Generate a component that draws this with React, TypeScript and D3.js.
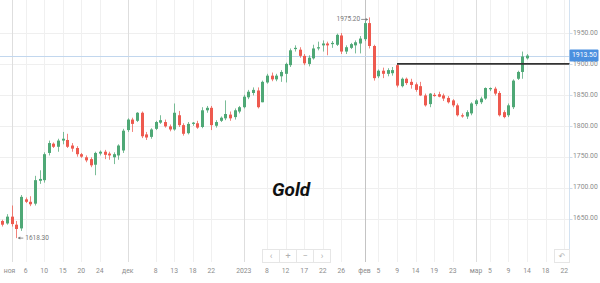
import React from "react";
import * as d3 from "d3";

const dates = [
  "2022-10-31",
  "2022-11-01","2022-11-02","2022-11-03","2022-11-04","2022-11-06","2022-11-07","2022-11-08","2022-11-09","2022-11-10","2022-11-11",
  "2022-11-13","2022-11-14","2022-11-15","2022-11-16","2022-11-17","2022-11-18","2022-11-20","2022-11-21","2022-11-22","2022-11-23",
  "2022-11-24","2022-11-25","2022-11-27","2022-11-28","2022-11-29","2022-11-30",
  "2022-12-01","2022-12-02","2022-12-04","2022-12-05","2022-12-06","2022-12-07","2022-12-08","2022-12-09","2022-12-11","2022-12-12",
  "2022-12-13","2022-12-14","2022-12-15","2022-12-16","2022-12-18","2022-12-19","2022-12-20","2022-12-21","2022-12-22","2022-12-23",
  "2022-12-26","2022-12-27","2022-12-28","2022-12-29","2022-12-30",
  "2023-01-02","2023-01-03","2023-01-04","2023-01-05","2023-01-06","2023-01-08","2023-01-09","2023-01-10","2023-01-11","2023-01-12",
  "2023-01-13","2023-01-15","2023-01-16","2023-01-17","2023-01-18","2023-01-19","2023-01-20","2023-01-22","2023-01-23","2023-01-24",
  "2023-01-25","2023-01-26","2023-01-27","2023-01-29","2023-01-30","2023-01-31",
  "2023-02-01","2023-02-02","2023-02-03","2023-02-05","2023-02-06","2023-02-07","2023-02-08","2023-02-09","2023-02-10","2023-02-12",
  "2023-02-13","2023-02-14","2023-02-15","2023-02-16","2023-02-17","2023-02-19","2023-02-20","2023-02-21","2023-02-22","2023-02-23",
  "2023-02-24","2023-02-26","2023-02-27","2023-02-28",
  "2023-03-01","2023-03-02","2023-03-03","2023-03-05","2023-03-06","2023-03-07","2023-03-08","2023-03-09","2023-03-10","2023-03-12",
  "2023-03-13","2023-03-14",
];
const futureDates = ["2023-03-15","2023-03-16","2023-03-17","2023-03-18","2023-03-19","2023-03-20","2023-03-21","2023-03-22"];

const opens = [
  1646,1642,1653,1640,1634,1681,1677,1674,1711,1712,
  1756,1771,1766,1776,1777,1768,1764,1754,1749,1746,
  1737,1755,1758,1755,1749,1752,1760,1793,1810,1808,
  1821,1786,1782,1795,1805,1806,1799,1794,1817,1801,
  1788,1803,1804,1798,1825,1829,1800,1808,1812,1818,
  1814,1823,1830,1846,1853,1857,1838,1870,1881,1875,
  1880,1884,1898,1924,1923,1913,1900,1909,1925,1930,
  1933,1932,1931,1946,1920,1926,1930,1933,1940,1966,
  1929,1880,1889,1884,1885,1898,1864,1876,1871,1867,
  1864,1849,1835,1850,1851,1849,1845,1841,1833,1817,
  1815,1820,1835,1838,1844,1859,1860,1853,1822,1817,
  1830,1876,1887,1909,
];
const highs = [
  1648,1657,1671,1646,1688,1684,1686,1719,1728,1757,
  1776,1773,1779,1790,1787,1772,1767,1756,1752,1749,
  1758,1760,1761,1758,1757,1770,1795,1812,1813,1822,
  1823,1790,1796,1808,1817,1810,1802,1836,1824,1804,
  1806,1806,1808,1830,1832,1832,1809,1815,1841,1823,
  1828,1832,1850,1858,1862,1862,1873,1884,1886,1884,
  1890,1902,1925,1930,1927,1916,1914,1931,1936,1938,
  1936,1937,1949,1950,1930,1934,1938,1945,1970,1975.2,
  1931,1891,1894,1893,1895,1901,1878,1878,1876,1870,
  1871,1852,1853,1853,1855,1852,1848,1843,1836,1820,
  1825,1838,1843,1847,1862,1862,1863,1856,1825,1836,
  1875,1889,1920,1916,
];
const lows = [
  1637,1640,1637,1618.3,1630,1675,1670,1671,1706,1708,
  1752,1764,1758,1770,1764,1758,1750,1748,1741,1733,
  1720,1752,1746,1745,1738,1745,1756,1790,1790,1806,
  1780,1777,1779,1793,1803,1797,1791,1792,1798,1784,
  1786,1800,1795,1796,1821,1793,1797,1806,1809,1808,
  1810,1820,1828,1843,1849,1828,1838,1868,1872,1872,
  1871,1870,1895,1920,1910,1898,1896,1907,1922,1920,
  1914,1926,1929,1916,1916,1924,1917,1917,1937,1925,
  1873,1877,1877,1880,1881,1862,1862,1866,1860,1855,
  1848,1831,1830,1847,1846,1840,1836,1830,1815,1813,
  1811,1817,1832,1835,1842,1856,1849,1815,1812,1814,
  1827,1874,1876,1907,
];
const closes = [
  1640,1653,1641,1633,1685,1677,1673,1712,1714,1754,
  1772,1766,1776,1779,1766,1763,1754,1750,1744,1736,
  1756,1758,1753,1752,1754,1768,1792,1810,1803,1821,
  1783,1781,1794,1806,1809,1799,1794,1821,1801,1787,
  1803,1805,1797,1825,1829,1801,1806,1813,1819,1812,
  1825,1830,1847,1855,1858,1830,1871,1881,1875,1881,
  1887,1900,1922,1926,1913,1901,1910,1925,1927,1933,
  1930,1934,1947,1920,1927,1932,1935,1941,1966,1929,
  1877,1889,1884,1890,1890,1865,1876,1869,1866,1858,
  1849,1833,1852,1848,1847,1844,1838,1833,1817,1815,
  1822,1836,1841,1844,1861,1861,1852,1817,1814,1833,
  1873,1887,1912,1913.5,
];

const priceTicks = [1650, 1700, 1750, 1800, 1850, 1900, 1950];
const tickDates = [
  "2022-11-02","2022-11-06","2022-11-10","2022-11-15","2022-11-20","2022-11-24",
  "2022-12-01","2022-12-08","2022-12-13","2022-12-18","2022-12-22",
  "2023-01-02","2023-01-08","2023-01-12","2023-01-17","2023-01-22","2023-01-26",
  "2023-02-01","2023-02-05","2023-02-09","2023-02-14","2023-02-19","2023-02-23",
  "2023-03-01","2023-03-05","2023-03-09","2023-03-14","2023-03-18","2023-03-22",
];
const tickLabels = [
  "ноя","6","10","15","20","24",
  "дек","8","13","18","22",
  "2023","8","12","17","22","26",
  "фев","5","9","14","19","23",
  "мар","5","9","14","18","22",
];
const monthLabels = ["ноя", "дек", "2023", "фев", "мар"];
const lastPrice = 1913.5;
const levelPrice = 1900;
const levelStart = "2023-02-09";
const title = "Gold";
const navButtons = ["‹", "+", "−", "›"];

const GREEN = "#4fa876";
const RED = "#ee5a4f";
const AXIS_TXT = "#8c8c8c";
const FONT = "Roboto, 'DejaVu Sans', sans-serif";

export default function App() {
  const W = 600;
  const H = 283;
  const plotRight = 569.5;
  const plotBottom = 262;

  const x = d3
    .scalePoint<string>()
    .domain([...dates, ...futureDates])
    .range([2.36, 564.2]);
  const y = d3.scaleLinear().domain([1650, 1950]).range([218.5, 33]);

  const maxIdx = d3.maxIndex(highs);
  const minIdx = d3.minIndex(lows);
  const fmt = d3.format(".2f");

  const crisp = (v: number) => Math.round(v) + 0.5;

  return (
    <div style={{ position: "fixed", left: 0, top: 0, width: W, height: H, background: "#fff" }}>
      <svg width={W} height={H} style={{ display: "block" }} fontFamily={FONT}>
        <rect x={0} y={0} width={W} height={H} fill="#fff" />
        {/* horizontal grid */}
        {priceTicks.map((p) => (
          <line key={"hg" + p} x1={0} x2={plotRight} y1={crisp(y(p))} y2={crisp(y(p))} stroke="#efefef" />
        ))}
        {/* vertical grid */}
        {tickDates.map((d, i) => {
          const isMonth = monthLabels.includes(tickLabels[i]);
          const color = tickLabels[i] === "фев" ? "#c4c4c4" : isMonth ? "#dedede" : "#f0f0f0";
          const xx = crisp(x(d) as number);
          return <line key={"vg" + i} x1={xx} x2={xx} y1={0} y2={plotBottom} stroke={color} />;
        })}
        {/* right axis line */}
        <line x1={plotRight} x2={plotRight} y1={0} y2={plotBottom} stroke="#d3e2f1" />
        {/* last price line */}
        <line x1={0} x2={plotRight} y1={crisp(y(lastPrice))} y2={crisp(y(lastPrice))} stroke="#c2d7ee" />

        {/* candles */}
        {dates.map((d, i) => {
          const cx = Math.round(x(d) as number);
          const o = opens[i];
          const c = closes[i];
          const col = c >= o ? GREEN : RED;
          const top = y(Math.max(o, c));
          const bot = y(Math.min(o, c));
          return (
            <g key={"c" + i}>
              <line x1={cx + 0.5} x2={cx + 0.5} y1={y(highs[i])} y2={y(lows[i])} stroke={col} strokeWidth={1} opacity={0.75} />
              <rect x={cx - 1} y={top} width={3} height={Math.max(1, bot - top)} fill={col} />
            </g>
          );
        })}

        {/* horizontal level line */}
        <line
          x1={x(levelStart) as number}
          x2={plotRight}
          y1={y(levelPrice)}
          y2={y(levelPrice)}
          stroke="#333"
          strokeWidth={1.8}
        />

        {/* max annotation */}
        <g>
          <text x={(x(dates[maxIdx]) as number) - 9} y={y(highs[maxIdx]) + 2} fontSize={6.5} fill="#777" textAnchor="end" dominantBaseline="middle">
            {fmt(highs[maxIdx])}
          </text>
          <line
            x1={(x(dates[maxIdx]) as number) - 8}
            x2={(x(dates[maxIdx]) as number) - 2}
            y1={y(highs[maxIdx]) + 2}
            y2={y(highs[maxIdx]) + 2}
            stroke="#777"
            strokeWidth={0.8}
          />
          <path
            d={`M${(x(dates[maxIdx]) as number) - 1},${y(highs[maxIdx]) + 2} l-2.5,-1.5 l0,3 z`}
            fill="#777"
          />
        </g>
        {/* min annotation */}
        <g>
          <line
            x1={(x(dates[minIdx]) as number) + 2}
            x2={(x(dates[minIdx]) as number) + 7}
            y1={y(lows[minIdx])}
            y2={y(lows[minIdx])}
            stroke="#777"
            strokeWidth={0.8}
          />
          <path d={`M${(x(dates[minIdx]) as number) + 1.5},${y(lows[minIdx])} l2.5,-1.5 l0,3 z`} fill="#777" />
          <text x={(x(dates[minIdx]) as number) + 9} y={y(lows[minIdx])} fontSize={6.5} fill="#777" dominantBaseline="middle">
            {fmt(lows[minIdx])}
          </text>
        </g>

        {/* right axis labels */}
        {priceTicks.map((p) => (
          <g key={"yl" + p}>
            <line x1={plotRight} x2={plotRight + 3} y1={crisp(y(p))} y2={crisp(y(p))} stroke="#cfdcea" />
            <text x={573} y={y(p)} fontSize={6.8} fill={AXIS_TXT} dominantBaseline="middle">
              {fmt(p)}
            </text>
          </g>
        ))}
        {/* last price tag */}
        <rect x={plotRight} y={y(lastPrice) - 6} width={29} height={12} fill="#4a8fdf" rx={1} />
        <text x={572} y={y(lastPrice)} fontSize={6.8} fill="#fff" dominantBaseline="middle">
          {fmt(lastPrice)}
        </text>

        {/* bottom labels */}
        {tickDates.map((d, i) => (
          <text
            key={"xl" + i}
            x={i === 0 ? 9.5 : (x(d) as number)}
            y={271}
            fontSize={6.8}
            fill={AXIS_TXT}
            textAnchor="middle"
            dominantBaseline="middle"
          >
            {tickLabels[i]}
          </text>
        ))}

        {/* title */}
        <text x={272} y={195.5} fontSize={19} fontWeight={700} fontStyle="italic" fill="#111" fontFamily="Roboto, 'Open Sans', sans-serif">
          {title}
        </text>

        {/* navigation buttons */}
        {navButtons.map((b, i) => (
          <g key={"nb" + i}>
            <rect x={262.5 + i * 17} y={249.5} width={17} height={13} fill="#fff" stroke="#e6e6e6" />
            <text x={271 + i * 17} y={256.5} fontSize={9} fill="#b0b0b0" textAnchor="middle" dominantBaseline="middle">
              {b}
            </text>
          </g>
        ))}
        {/* reset button */}
        <rect x={554.5} y={249.5} width={15} height={13} fill="#fff" stroke="#e6e6e6" />
        <text x={562} y={256.5} fontSize={8} fill="#b0b0b0" textAnchor="middle" dominantBaseline="middle">
          ↶
        </text>
      </svg>
    </div>
  );
}
